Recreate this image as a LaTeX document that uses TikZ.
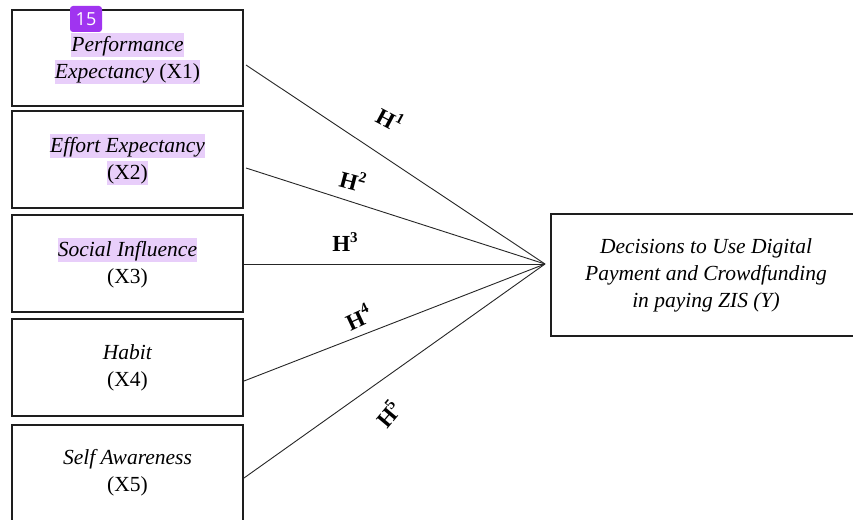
\documentclass[tikz,border=0pt]{standalone}
\usepackage{fontspec}
\setmainfont{Liberation Serif}
\newfontfamily\badgefont{Open Sans}
\usetikzlibrary{calc}
\definecolor{hlc}{RGB}{232,206,250}
\definecolor{badgec}{RGB}{160,52,240}
\definecolor{boxc}{RGB}{30,30,30}
\newcommand{\hlt}[1]{{\setlength{\fboxsep}{0pt}\colorbox{hlc}{\rule[-5.5pt]{0pt}{24pt}#1}}}
\newcommand{\hyp}[1]{H\raisebox{0.42em}{\fontsize{15}{16}\selectfont #1}}
\begin{document}
\begin{tikzpicture}[x=1pt,y=-1pt,
  varbox/.style={draw=boxc, line width=2pt, minimum width=231pt, minimum height=96pt,
    align=center, inner sep=0pt, font=\fontsize{21.5}{27}\selectfont},
  ybox/.style={draw=boxc, line width=2pt, minimum width=310pt, minimum height=122pt,
    align=center, inner sep=0pt, font=\fontsize{21.5}{27}\selectfont\itshape},
  link/.style={draw=black!85, line width=0.9pt},
  hlab/.style={font=\fontsize{23}{26}\selectfont\bfseries, inner sep=0pt},
  badge/.style={fill=badgec, rounded corners=3pt, minimum width=32pt, minimum height=26pt,
    inner sep=0pt, text=white, font=\badgefont\fontsize{18}{20}\selectfont}]
\useasboundingbox (0,0) rectangle (853,519);
\fill[white] (0,0) rectangle (853,519);

\node[varbox] (x1) at (127.5,58) {\hlt{\itshape Performance}\\\hlt{\textit{Expectancy} (X1)}};
\node[varbox, minimum height=97pt] (x2) at (127.5,159.5) {\hlt{\itshape Effort Expectancy}\\\hlt{(X2)}};
\node[varbox, minimum height=97pt] (x3) at (127.5,263.5) {\hlt{\itshape Social Influence}\\(X3)};
\node[varbox, minimum height=97pt] (x4) at (127.5,367.5) {\textit{Habit}\\(X4)};
\node[varbox] (x5) at (127.5,473) {\textit{Self Awareness}\\(X5)};

\node[ybox] (y) at (706,275) {Decisions to Use Digital\\Payment and Crowdfunding\\in paying ZIS (Y)};

\coordinate (c) at (545,264);

\draw[link] ($(x1.east)+(2,7)$) -- (c);
\draw[link] ($(x2.east)+(2,8.5)$) -- (c);
\draw[link] ($(x3.east)+(0,0.5)$) -- (c);
\draw[link] ($(x4.east)+(0,13.5)$) -- (c);
\draw[link] ($(x5.east)+(0,5)$) -- (c);

\node[hlab, rotate=-28] (h1) at (390,119) {\hyp{1}};
\node[hlab, rotate=-15] (h2) at (353,180) {\hyp{2}};
\node[hlab] (h3) at (345,242) {\hyp{3}};
\node[hlab, rotate=25] (h4) at (358,317) {\hyp{4}};
\node[hlab, rotate=50] (h5) at (388,414) {\hyp{5}};

\node[badge] (b) at (86,19) {15};
\end{tikzpicture}
\end{document}
